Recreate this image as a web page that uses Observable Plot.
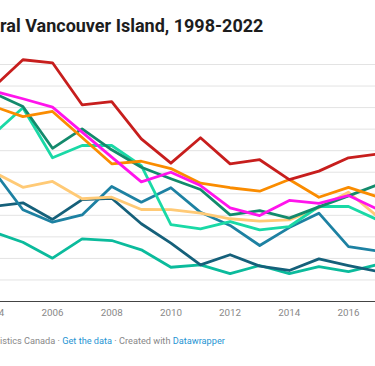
<!DOCTYPE html>
<html><head><meta charset="utf-8">
<script src="https://cdn.jsdelivr.net/npm/d3@7"></script>
<script src="https://cdn.jsdelivr.net/npm/@observablehq/plot@0.6"></script>
<style>
html,body{margin:0;padding:0;background:#fff;}
body{width:375px;height:366px;overflow:hidden;position:relative;font-family:Roboto,sans-serif;}
#title{position:absolute;left:0;top:14.5px;font-size:18px;font-weight:700;line-height:22px;color:#1d1d1d;white-space:nowrap;z-index:2;}
#chart{position:absolute;left:-100px;top:0;z-index:1;}
#footer{position:absolute;left:0;top:335px;font-size:9.2px;line-height:11px;color:#888;white-space:nowrap;z-index:2;}
#footer a{color:#1f95d3;text-decoration:none;}
</style></head><body>
<div id="chart"></div>
<div id="title">ral Vancouver Island, 1998-2022</div>
<div id="footer">istics Canada · <a>Get the data</a> · Created with <a>Datawrapper</a></div>
<script>
const years = [2004,2005,2006,2007,2008,2009,2010,2011,2012,2013,2014,2015,2016,2017];
const xTicks = [2004,2006,2008,2010,2012,2014,2016];
const gridValues = [10,20,30,40,50,60,70,80,90,100,110];

const teal        = [32.3,27.5,20.1,29.1,28.3,24.0,15.9,17.0,12.9,16.7,12.9,16.2,13.9,17.2];
const darkBlue    = [44.1,45.8,38.1,47.3,47.9,36.1,27.1,17.0,21.7,16.4,14.4,19.8,16.7,13.9];
const blue        = [60.9,42.6,36.8,40.2,53.4,46.1,52.8,41.4,35.3,26.0,34.3,41.0,25.5,23.4];
const lightOrange = [60.2,53.0,55.7,47.7,48.4,42.7,42.6,41.0,38.4,37.3,37.9,43.5,50.7,39.2];
const aqua        = [77.6,89.9,66.7,72.4,72.4,63.1,35.7,33.7,37.1,33.2,34.8,44.1,44.1,37.8];
const darkGreen   = [96.8,90.5,71.1,80.1,70.4,62.3,57.0,52.0,40.2,42.2,38.7,43.9,49.0,54.3];
const orange      = [90.6,85.8,88.2,76.1,63.9,65.1,61.7,54.9,52.8,51.2,56.6,48.4,53.0,48.5];
const magenta     = [97.7,94.1,90.2,78.6,67.0,55.5,60.0,53.8,43.5,39.9,46.9,45.5,49.2,42.7];
const red         = [99.4,112.2,110.8,91.3,92.8,75.5,64.2,76.0,63.9,65.8,56.6,60.5,66.7,68.5];

const seriesNames  = ["teal","darkBlue","blue","lightOrange","aqua","darkGreen","orange","magenta","red"];
const seriesValues = [teal,darkBlue,blue,lightOrange,aqua,darkGreen,orange,magenta,red];
const seriesColors = ["#0bbb9c","#15607a","#1d81a2","#ffca76","#1ad9a6","#138a6c","#fa8c00","#ff14ec","#c71e1d"];

const table = [];
seriesNames.forEach((name, i) => {
  years.forEach((yr, j) => table.push({series: name, year: yr, value: seriesValues[i][j]}));
});

const chart = Plot.plot({
  width: 475,
  height: 325,
  marginLeft: 0,
  marginRight: 0,
  marginTop: 64,
  marginBottom: 24,
  style: {fontFamily: "Roboto, sans-serif", fontSize: "9.8px", color: "#888", background: "transparent"},
  x: {domain: [2000.8649, 2016.9122], ticks: xTicks, tickFormat: d => String(d), tickSize: 0, tickPadding: 7.5, label: null},
  y: {domain: [0, 110], axis: null},
  color: {domain: seriesNames, range: seriesColors},
  marks: [
    Plot.ruleY(gridValues, {stroke: "#e3e3e3", strokeWidth: 1}),
    Plot.line(table, {x: "year", y: "value", z: "series", stroke: "series", strokeWidth: 2.8}),
    Plot.ruleY([0], {stroke: "#444", strokeWidth: 1})
  ]
});
document.getElementById("chart").appendChild(chart);
</script>
</body></html>
